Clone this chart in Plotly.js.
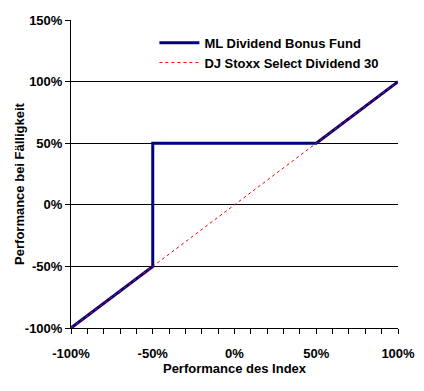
<!DOCTYPE html>
<html><head><meta charset="utf-8">
<script src="https://cdn.plot.ly/plotly-3.0.1.min.js"></script>
<style>html,body{margin:0;padding:0;background:#fff}</style>
</head><body>
<div id="chart" style="width:424px;height:391px"></div>
<script>
const fundName = "ML Dividend Bonus Fund";
const indexName = "DJ Stoxx Select Dividend 30";
const fundX = [-100, -50, -50, 50, 100];
const fundY = [-100, -50, 50, 50, 100];
const indexX = [-100, 100];
const indexY = [-100, 100];
const xTicks = [-100, -50, 0, 50, 100];
const yTicks = [-100, -50, 0, 50, 100, 150];
const xTickText = xTicks.map(v => v + "%");
const yTickText = yTicks.map(v => v + "%");
const xTitle = "Performance des Index";
const yTitle = "Performance bei Fälligkeit";

const font = {family: "Liberation Sans, Arial, sans-serif", size: 13, color: "#000", weight: "bold"};

const data = [
  {x: fundX, y: fundY, type: "scatter", mode: "lines", name: fundName,
   line: {color: "#000080", width: 3}},
  {x: indexX, y: indexY, type: "scatter", mode: "lines", name: indexName,
   line: {color: "#ff0000", width: 1, dash: "dot"}}
];

const layout = {
  width: 424, height: 391,
  margin: {l: 71, r: 26, t: 20, b: 63, autoexpand: false},
  paper_bgcolor: "#fff", plot_bgcolor: "#fff",
  font: font,
  showlegend: true,
  legend: {x: 0.255, y: 0.975, xanchor: "left", yanchor: "top", bgcolor: "rgba(0,0,0,0)",
           font: font, tracegroupgap: 0, itemwidth: 40},
  xaxis: {
    range: [-100, 100], tickvals: xTicks, ticktext: xTickText, automargin: false,
    showgrid: false, zeroline: false, showline: true, linecolor: "#000", linewidth: 1,
    ticks: "outside", ticklen: 5, tickcolor: "#000", tickwidth: 1, ticklabelstandoff: 8,
    minor: {tickmode: "linear", tick0: -100, dtick: 10, ticks: "outside", ticklen: 5, tickcolor: "#000", tickwidth: 1, showgrid: false},
    tickfont: font,
    title: {text: xTitle, font: font, standoff: 4}
  },
  yaxis: {
    range: [-100, 150], tickvals: yTicks, ticktext: yTickText, automargin: false,
    showgrid: true, gridcolor: "#000", gridwidth: 1, zeroline: false,
    showline: true, linecolor: "#000", linewidth: 1,
    ticks: "outside", ticklen: 5, tickcolor: "#000", tickwidth: 1,
    tickfont: font
  },
  annotations: [
    {text: yTitle, xref: "paper", yref: "paper", x: -0.157, y: 0.47,
     xanchor: "center", yanchor: "middle", textangle: -90, showarrow: false, font: font}
  ]
};

Plotly.newPlot("chart", data, layout, {displayModeBar: false, staticPlot: true});
</script>
</body></html>
